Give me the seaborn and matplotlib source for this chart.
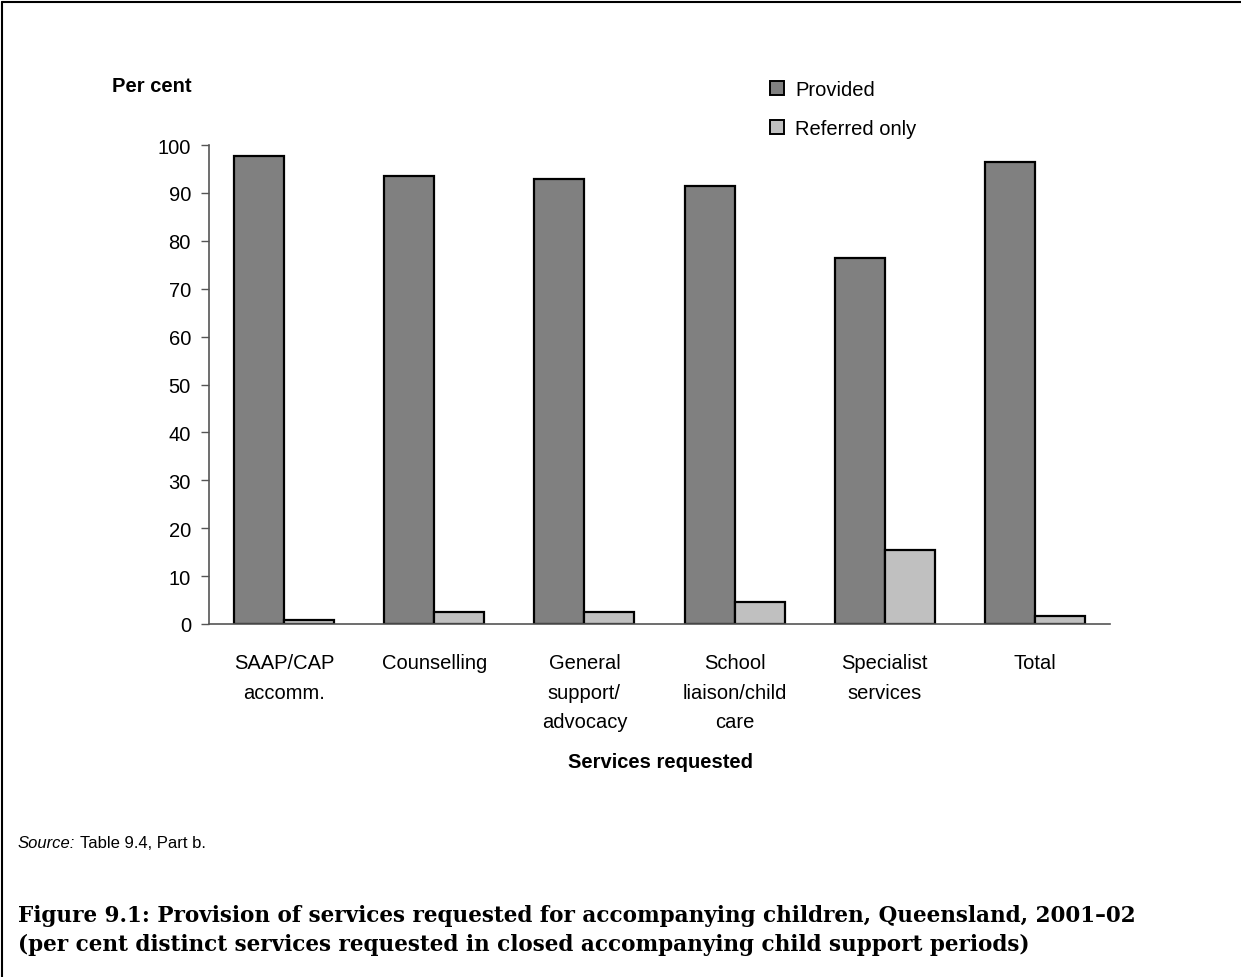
import matplotlib
matplotlib.use("Agg")
import matplotlib.pyplot as plt
from matplotlib.lines import Line2D
from matplotlib.patches import Patch
import seaborn as sns
import pandas as pd

# Services requested for accompanying children (per cent)
categories = ["SAAP/CAP\naccomm.", "Counselling", "General\nsupport/\nadvocacy",
              "School\nliaison/child\ncare", "Specialist\nservices", "Total"]
provided = [97.6, 93.5, 92.9, 91.4, 76.4, 96.4]
referred_only = [0.9, 2.5, 2.5, 4.6, 15.4, 1.7]
series_names = ["Provided", "Referred only"]
series_colors = ["#808080", "#c0c0c0"]

df = pd.DataFrame({
    "Service": categories * 2,
    "Series": [series_names[0]] * len(categories) + [series_names[1]] * len(categories),
    "Value": provided + referred_only,
})

sns.set_theme(style="white")
plt.rcParams["font.family"] = ["Liberation Sans", "DejaVu Sans"]
plt.rcParams["text.color"] = "black"
plt.rcParams["xtick.labelcolor"] = "black"
plt.rcParams["ytick.labelcolor"] = "black"
FS = 14.5

fig = plt.figure(figsize=(12.41, 9.78), dpi=100)
ax = fig.add_axes([209 / 1241, 1 - 625 / 978, (1110 - 209) / 1241, (625 - 146) / 978])

sns.barplot(data=df, x="Service", y="Value", hue="Series", order=categories,
            hue_order=series_names, palette=series_colors, width=0.667,
            edgecolor="black", linewidth=1.6, saturation=1, legend=False, ax=ax)

ax.set_ylim(0, 100)
ax.set_xlim(-0.5, len(categories) - 0.5)
ax.set_yticks(range(0, 101, 10))
ax.tick_params(axis="y", which="major", left=True, length=6, width=1,
               color="#555555", labelcolor="black", labelsize=FS, pad=7,
               direction="out")
ax.tick_params(axis="x", bottom=False, labelcolor="black", labelsize=FS, pad=15)
for lbl in ax.get_xticklabels():
    lbl.set_linespacing(1.7)
    lbl.set_verticalalignment("top")

for side in ["top", "right"]:
    ax.spines[side].set_visible(False)
for side in ["left", "bottom"]:
    ax.spines[side].set_color("#555555")
    ax.spines[side].set_linewidth(1.2)

ax.set_xlabel("")
ax.set_ylabel("")
ax.grid(False)

# Axis titles
fig.text(112 / 1241, 1 - 87 / 978, "Per cent", fontsize=FS, fontweight="bold",
         ha="left", va="center")
fig.text(660 / 1241, 1 - 762 / 978, "Services requested", fontsize=FS,
         fontweight="bold", ha="center", va="center")

# Legend
handles = [Patch(facecolor=c, edgecolor="black", linewidth=1.4) for c in series_colors]
fig.legend(handles, series_names, loc="upper left",
           bbox_to_anchor=(752 / 1241, 1 - 63 / 978), frameon=False,
           fontsize=FS, handlelength=0.7, handleheight=0.7,
           handletextpad=0.55, labelspacing=1.0, labelcolor="black")

# Source note
src = fig.text(18 / 1241, 1 - 844 / 978, "Source:", fontsize=12, style="italic",
               ha="left", va="center")
ax.annotate("Table 9.4, Part b.", xy=(1, 0.5), xycoords=src, xytext=(3, 0),
            textcoords="offset points", fontsize=12, ha="left", va="center",
            annotation_clip=False)

# Figure caption
cap_font = dict(fontsize=15.5, fontweight="bold",
                family=["DejaVu Serif", "Liberation Serif"], ha="left", va="center")
fig.text(18 / 1241, 1 - 916 / 978,
         "Figure 9.1: Provision of services requested for accompanying children, Queensland, 2001\u201302",
         **cap_font)
fig.text(18 / 1241, 1 - 945 / 978,
         "(per cent distinct services requested in closed accompanying child support periods)",
         **cap_font)

# Page frame: top and left rules
fig.add_artist(Line2D([2 / 1241, 1], [1 - 3 / 978, 1 - 3 / 978], color="black",
                      linewidth=1.5, transform=fig.transFigure))
fig.add_artist(Line2D([2 / 1241, 2 / 1241], [0, 1 - 3 / 978], color="black",
                      linewidth=1.5, transform=fig.transFigure))

fig.savefig("out.png", dpi=100, facecolor="white")
